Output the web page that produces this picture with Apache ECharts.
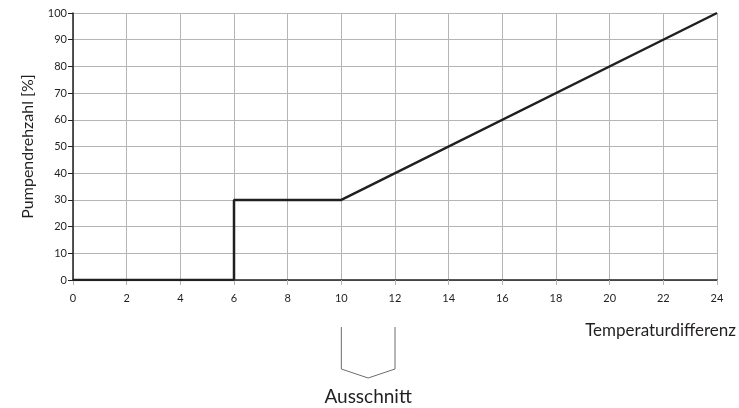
<!DOCTYPE html>
<html>
<head>
<meta charset="utf-8">
<script src="https://cdn.jsdelivr.net/npm/echarts@6/dist/echarts.min.js"></script>
<style>
  html, body { margin: 0; padding: 0; background: #fff; }
  #chart { width: 739px; height: 408px; }
</style>
</head>
<body>
<div id="chart"></div>
<script>
// Kennlinie: Temperaturdifferenz -> Pumpendrehzahl
var tempDiff = [0, 6, 6, 10, 24];
var pumpSpeed = [0, 0, 30, 30, 100];
// Ausschnitt-Bereich auf der x-Achse
var cutoutRange = [10, 12];

var font = 'Lato, "Open Sans", sans-serif';
var points = tempDiff.map(function (t, i) { return [t, pumpSpeed[i]]; });

var chart = echarts.init(document.getElementById('chart'));
chart.setOption({
  animation: false,
  grid: { left: 73, right: 22, top: 13, bottom: 128 },
  xAxis: {
    type: 'value',
    min: 0, max: 24, interval: 2,
    axisLine: { show: true, lineStyle: { color: '#231f20', width: 1.5 } },
    axisTick: { show: true, length: 5, lineStyle: { color: '#b5b5b5' } },
    axisLabel: { color: '#231f20', fontSize: 11, fontFamily: font, margin: 13 },
    splitLine: { show: true, lineStyle: { color: '#b5b5b5', width: 1 } }
  },
  yAxis: {
    type: 'value',
    min: 0, max: 100, interval: 10,
    name: 'Pumpendrehzahl [%]',
    nameLocation: 'middle',
    nameGap: 37,
    nameTextStyle: { color: '#231f20', fontSize: 16, fontFamily: font },
    axisLine: { show: true, lineStyle: { color: '#231f20', width: 1.5 } },
    axisTick: { show: true, length: 5, lineStyle: { color: '#231f20' } },
    axisLabel: { color: '#231f20', fontSize: 11, fontFamily: font, margin: 6 },
    splitLine: { show: true, lineStyle: { color: '#b5b5b5', width: 1 } }
  },
  series: [{
    type: 'line',
    data: points,
    symbol: 'none',
    lineStyle: { color: '#231f20', width: 2.5 }
  }]
});

// Klammer unter dem Ausschnitt, an den Achsenwerten ausgerichtet
var xa = chart.convertToPixel({ xAxisIndex: 0 }, cutoutRange[0]);
var xb = chart.convertToPixel({ xAxisIndex: 0 }, cutoutRange[1]);
var xm = (xa + xb) / 2;
chart.setOption({
  graphic: [{
    type: 'text',
    right: 3,
    top: 322,
    style: { text: 'Temperaturdifferenz', fill: '#231f20', font: '17px ' + font }
  }, {
    type: 'polyline',
    shape: { points: [[xa, 327], [xa, 369], [xm, 378], [xb, 369], [xb, 327]] },
    style: { fill: null, stroke: '#6d6d6d', lineWidth: 1 }
  }, {
    type: 'text',
    x: xm,
    y: 397,
    style: { text: 'Ausschnitt', fill: '#231f20', font: '19px ' + font, align: 'center', verticalAlign: 'middle' }
  }]
});
</script>
</body>
</html>
